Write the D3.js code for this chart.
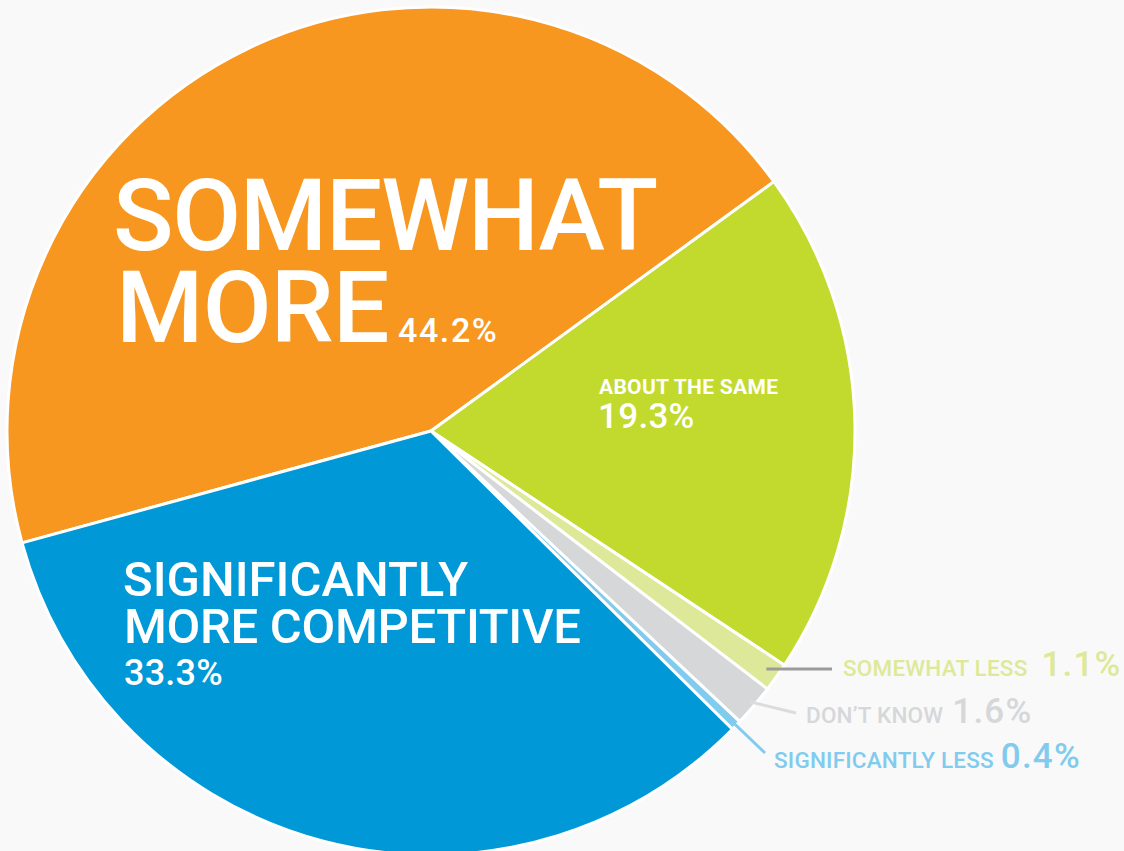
<!DOCTYPE html>
<html>
<head>
<meta charset="utf-8">
<script src="https://cdn.jsdelivr.net/npm/d3@7"></script>
<style>
  html, body { margin: 0; padding: 0; background: #f9f9f9; }
  svg { display: block; font-family: Roboto, "Liberation Sans", Arial, sans-serif; }
</style>
</head>
<body>
<svg id="chart" width="1124" height="851"></svg>
<script>
// Survey answers, in clockwise drawing order
const categories = [
  "SOMEWHAT MORE",
  "ABOUT THE SAME",
  "SOMEWHAT LESS",
  "DON\u2019T KNOW",
  "SIGNIFICANTLY LESS",
  "SIGNIFICANTLY MORE COMPETITIVE"
];
const values = [44.2, 19.3, 1.1, 1.6, 0.4, 33.3];
const valueLabels = values.map(v => v.toFixed(1) + "%");
const colors = ["#f7971f", "#c2d92e", "#dde998", "#d6d7d9", "#80cbee", "#0098d6"];

const W = 1124, H = 851;
const cx = 431, cy = 431, R = 424;

const svg = d3.select("#chart");
svg.append("rect").attr("width", W).attr("height", H).attr("fill", "#f9f9f9");

const startDeg = -105.3;
const pie = d3.pie().sort(null).value(d => d.value)
  .startAngle(startDeg * Math.PI / 180)
  .endAngle((startDeg + 360) * Math.PI / 180);

const data = categories.map((c, i) => ({ cat: c, value: values[i], label: valueLabels[i], color: colors[i] }));
const arcs = pie(data);
const arc = d3.arc().innerRadius(0).outerRadius(R);

const g = svg.append("g").attr("transform", `translate(${cx},${cy})`);
g.selectAll("path.slice").data(arcs).join("path")
  .attr("class", "slice")
  .attr("d", arc)
  .attr("fill", d => d.data.color)
  .attr("stroke", "#ffffff")
  .attr("stroke-width", 3)
  .attr("stroke-linejoin", "round");

// In-slice labels for the large answers
const big = svg.append("g").attr("fill", "#ffffff");

function addText(parent, x, y, size, weight, txt, spacing) {
  return parent.append("text").attr("x", x).attr("y", y)
    .attr("font-size", size).attr("font-weight", weight)
    .attr("letter-spacing", spacing || 0)
    .text(txt);
}

// Somewhat more
addText(big, 113, 250, 100, 500, "SOMEWHAT", -1.3);
addText(big, 116, 342, 100, 500, "MORE", -0.8);
addText(big, 398, 342, 34, 500, valueLabels[0], 1.6);

// About the same
addText(big, 599, 394, 21, 700, categories[1], 0.3);
addText(big, 598, 428, 35, 500, valueLabels[1], 0.3);

// Significantly more competitive
addText(big, 123, 596, 49, 500, "SIGNIFICANTLY", 0);
addText(big, 124, 643, 49, 500, "MORE COMPETITIVE", -0.3);
addText(big, 124, 685, 36, 500, valueLabels[5], 0.2);

// Outside labels with leader lines for the small answers
const outside = [
  { i: 2, lineEnd: [832, 669], lineColor: "#9b9b9b", x: 843, y: 676, gap: 14 },
  { i: 3, lineEnd: [796, 713], lineColor: "#dcdcdc", x: 806, y: 723, gap: 9 },
  { i: 4, lineEnd: [765, 753], lineColor: "#80cbee", x: 774, y: 768, gap: 7 }
];

outside.forEach(o => {
  const a = arcs[o.i];
  const mid = (a.startAngle + a.endAngle) / 2;
  const r0 = o.i === 2 ? R - 12 : R - 6;
  const x0 = cx + Math.sin(mid) * r0;
  const y0 = cy - Math.cos(mid) * r0;
  svg.append("line")
    .attr("x1", x0).attr("y1", o.i === 2 ? o.lineEnd[1] : y0)
    .attr("x2", o.lineEnd[0]).attr("y2", o.lineEnd[1])
    .attr("stroke", o.lineColor).attr("stroke-width", 3);
  const name = addText(svg, o.x, o.y, 22.5, 500, categories[o.i], 0.2).attr("fill", colors[o.i]);
  const end = o.x + name.node().getComputedTextLength();
  addText(svg, end + o.gap, o.y, 35, 500, valueLabels[o.i], 1.2).attr("fill", colors[o.i]);
});
</script>
</body>
</html>
